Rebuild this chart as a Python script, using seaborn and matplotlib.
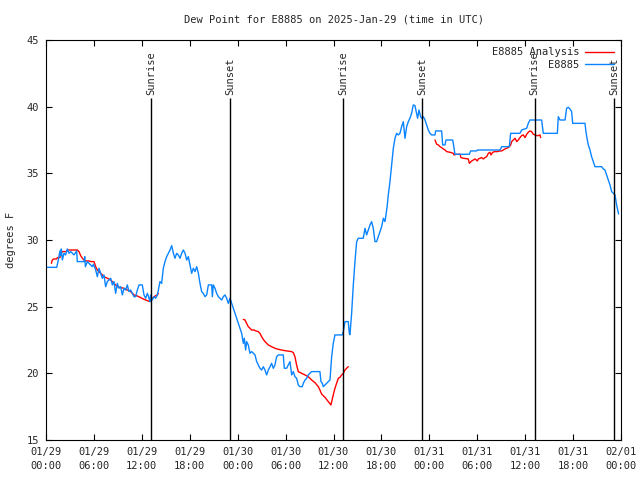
import numpy as np
import pandas as pd
import matplotlib
matplotlib.use("Agg")
import matplotlib.pyplot as plt
import seaborn as sns

# ---------------- data ----------------
title = "Dew Point for E8885 on 2025-Jan-29 (time in UTC)"
ylabel = "degrees F"

obs_hours = [0.0, 1.34, 1.50, 1.75, 1.84, 1.92, 2.05, 2.25, 2.46, 2.67, 2.88, 3.09, 3.51, 3.84, 3.92,
             4.76, 4.85, 4.93, 5.18, 5.38, 5.80, 5.93, 6.22, 6.43, 6.64, 6.85, 7.05, 7.26, 7.47, 7.68,
             7.89, 8.10, 8.31, 8.51, 8.72, 8.93, 9.14, 9.35, 9.56, 9.77, 9.98, 10.18, 10.39, 10.60,
             10.81, 11.02, 11.23, 11.44, 11.65, 12.06, 12.27, 12.48, 12.69, 12.90, 13.02, 13.10,
             13.31, 13.52, 13.73, 13.94, 14.07, 14.27, 14.48, 14.69, 14.90, 15.11, 15.32, 15.53,
             15.74, 15.95, 16.15, 16.36, 16.57, 16.78, 16.99, 17.20, 17.41, 17.62, 17.82, 18.03,
             18.24, 18.45, 18.66, 18.87, 19.08, 19.28, 19.49, 19.70, 19.91, 20.12, 20.33, 20.75,
             20.83, 20.95, 21.16, 21.37, 21.58, 21.79, 22.00, 22.20, 22.41, 22.62, 22.83, 23.04,
             23.25, 23.45, 23.66, 23.87, 24.08, 24.29, 24.50, 24.71, 24.83, 25.00, 25.12, 25.33,
             25.54, 25.75, 25.96, 26.17, 26.38, 26.58, 26.79, 27.00, 27.21, 27.42, 27.63, 27.84,
             28.04, 28.25, 28.46, 28.67, 28.88, 29.09, 29.71, 29.84, 30.13, 30.34, 30.55, 30.76,
             30.97, 31.17, 31.38, 31.59, 31.80, 32.09, 32.22, 32.43, 32.64, 32.84, 33.05, 33.26,
             34.30, 34.43, 34.60, 34.72, 34.93, 35.14, 35.35, 35.56, 35.77, 35.97, 36.18, 37.10,
             37.23, 37.44, 37.85, 37.98, 38.06, 38.27, 38.48, 38.69, 38.90, 39.10, 39.73, 39.94,
             40.15, 40.36, 40.57, 40.77, 40.98, 41.19, 41.40, 41.61, 41.82, 42.03, 42.24, 42.44,
             42.57, 42.74, 42.86, 43.07, 43.28, 43.49, 43.70, 43.91, 44.11, 44.32, 44.53, 44.74,
             44.95, 45.16, 45.37, 45.57, 45.78, 45.99, 46.20, 46.41, 46.53, 46.70, 46.91, 47.04,
             47.25, 47.46, 47.66, 47.87, 48.08, 48.29, 48.71, 48.79, 49.54, 49.67, 49.96, 50.09,
             50.92, 51.00, 51.21, 53.01, 53.17, 53.93, 54.01, 56.85, 57.06, 58.02, 58.18, 59.35,
             59.56, 60.19, 60.39, 60.60, 62.06, 62.19, 62.27, 64.03, 64.15, 64.36, 64.99, 65.19,
             65.40, 65.61, 65.82, 65.95, 67.49, 67.61, 67.78, 67.91, 68.12, 68.32, 68.53, 68.74,
             69.58, 69.79, 69.99, 70.20, 70.41, 70.62, 70.83, 71.04, 71.25, 71.45, 71.70]
obs_values = [27.95, 27.95, 28.38, 29.18, 28.83, 29.33, 28.5, 29.0, 28.88, 29.33, 29.0, 29.13, 28.88, 29.18, 28.38,
              28.38, 28.75, 28.0, 28.38, 28.25, 28.0, 28.18, 27.75, 27.25, 27.88, 27.5, 27.13, 27.38, 26.5, 26.88,
              27.0, 27.13, 26.63, 26.88, 26.0, 26.75, 26.38, 26.5, 25.88, 26.38, 26.25, 26.63, 26.13, 26.25,
              26.0, 25.75, 25.75, 26.25, 26.63, 26.63, 25.88, 25.63, 26.0, 25.63, 25.38, 25.88,
              25.5, 25.75, 25.63, 25.88, 26.25, 26.88, 26.75, 27.88, 28.38, 28.75, 29.0, 29.25,
              29.58, 29.0, 28.63, 29.0, 28.88, 28.63, 29.0, 29.25, 29.0, 28.5, 28.75, 28.13,
              27.5, 27.88, 27.63, 28.0, 27.5, 26.75, 26.13, 26.0, 25.75, 25.88, 26.63, 26.63,
              25.75, 26.63, 26.38, 26.0, 25.75, 25.63, 25.5, 25.75, 25.88, 25.63, 25.25, 25.63,
              25.25, 24.88, 24.5, 24.13, 23.75, 23.38, 23.0, 22.25, 22.63, 21.75, 22.38, 22.13,
              21.5, 21.63, 21.5, 21.38, 20.88, 20.63, 20.38, 20.25, 20.5, 20.25, 19.88, 20.25,
              20.5, 20.75, 20.38, 20.63, 21.25, 21.38, 21.38, 20.38, 20.38, 20.63, 20.88, 19.88,
              20.13, 19.75, 19.63, 19.13, 19.0, 19.0, 19.25, 19.5, 19.63, 19.88, 20.0, 20.13,
              20.13, 19.38, 19.25, 19.0, 19.13, 19.25, 19.38, 19.5, 21.25, 22.25, 22.88, 22.88,
              23.13, 23.88, 23.88, 23.0, 22.9, 24.5, 26.63, 28.38, 29.88, 30.13, 30.13, 30.88,
              30.38, 30.75, 31.13, 31.38, 30.88, 29.88, 29.88, 30.25, 30.63, 31.0, 31.63, 31.38,
              31.88, 32.63, 33.38, 34.38, 35.63, 36.88, 37.63, 38.0, 37.88, 38.0, 38.5, 38.88,
              37.63, 38.5, 38.88, 39.13, 39.5, 40.13, 40.08, 39.5, 39.13, 39.75, 39.25, 39.13,
              39.25, 39.0, 38.63, 38.25, 38.0, 37.88, 37.88, 38.18, 38.18, 37.13, 37.13, 37.5,
              37.5, 37.25, 36.43, 36.43, 36.68, 36.68, 36.75, 36.75, 37.0, 37.0, 38.0, 38.0,
              38.25, 38.38, 38.75, 39.0, 39.0, 38.38, 38.0, 38.0, 39.25, 39.0, 39.0, 39.88,
              39.95, 39.83, 39.63, 38.75, 38.75, 38.13, 37.5, 37.13, 36.75, 36.25, 35.88, 35.5,
              35.5, 35.33, 35.25, 34.88, 34.5, 34.13, 33.63, 33.5, 33.38, 32.63, 31.95]

ana1_hours = [0.67, 0.79, 1.0, 1.34, 1.42, 1.75, 1.84, 2.05, 2.59, 2.67, 3.92, 4.13, 4.34, 4.55, 4.76,
              4.97, 5.38, 5.59, 6.01, 6.22, 6.43, 6.64, 6.85, 7.26, 7.68, 8.10, 8.51, 8.93, 9.35, 9.77,
              10.18, 10.60, 11.02, 11.44, 11.85, 12.27, 12.69, 13.02, 13.31, 13.52, 13.94, 14.07]
ana1_values = [28.25, 28.5, 28.58, 28.58, 28.68, 28.68, 29.0, 29.13, 29.13, 29.25, 29.25, 29.13, 28.83, 28.63, 28.5,
               28.43, 28.43, 28.38, 28.38, 28.0, 27.75, 27.63, 27.5, 27.25, 27.13, 27.0, 26.75, 26.5, 26.43, 26.38,
               26.25, 26.13, 25.88, 25.8, 25.68, 25.55, 25.45, 25.38, 25.63, 25.75, 25.88, 26.0]

ana2_hours = [24.71, 24.92, 25.12, 25.33, 25.54, 25.75, 26.08, 26.17, 26.58, 26.79, 27.0, 27.21, 27.42,
              27.63, 27.84, 28.25, 28.67, 29.09, 29.5, 29.92, 30.76, 30.97, 31.17, 31.38, 31.59, 32.01,
              32.43, 32.84, 33.26, 33.68, 34.1, 34.3, 34.51, 34.93, 35.35, 35.68, 35.97, 36.18, 36.39,
              36.6, 36.81, 37.02, 37.23, 37.44, 37.64, 37.85]
ana2_values = [24.05, 24.0, 23.75, 23.5, 23.38, 23.25, 23.25, 23.2, 23.13, 23.0, 22.75, 22.55, 22.38,
               22.25, 22.13, 22.0, 21.88, 21.8, 21.75, 21.7, 21.63, 21.55, 21.25, 20.63, 20.13, 20.0,
               19.88, 19.75, 19.5, 19.3, 19.0, 18.75, 18.45, 18.2, 17.88, 17.63, 18.38, 18.88, 19.25,
               19.63, 19.7, 19.88, 20.0, 20.25, 20.38, 20.5]

ana3_hours = [48.71, 48.92, 49.13, 49.33, 49.54, 49.75, 49.96, 50.17, 50.59, 51.0, 51.09, 51.42, 51.84,
              51.96, 52.26, 52.88, 53.01, 53.3, 53.51, 53.72, 54.01, 54.13, 54.34, 54.55, 54.76, 54.97,
              55.18, 55.39, 55.59, 55.72, 55.93, 56.22, 56.51, 56.85, 57.06, 57.26, 57.47, 57.68, 57.89,
              58.02, 58.18, 58.31, 58.52, 58.73, 58.94, 59.14, 59.35, 59.56, 59.77, 59.98, 60.19, 60.39,
              60.6, 60.81, 61.02, 61.23, 61.44, 61.65, 61.86, 61.94]
ana3_values = [37.5, 37.18, 37.13, 37.0, 36.93, 36.83, 36.75, 36.63, 36.58, 36.5, 36.38, 36.43, 36.43,
               36.18, 36.13, 36.08, 35.75, 35.93, 36.0, 36.08, 35.93, 36.08, 36.13, 36.18, 36.08, 36.18,
               36.25, 36.5, 36.58, 36.38, 36.58, 36.63, 36.63, 36.68, 36.68, 36.75, 36.83, 36.88, 36.93,
               37.0, 37.13, 37.38, 37.5, 37.63, 37.38, 37.5, 37.68, 37.83, 37.88, 37.68, 37.93, 38.08,
               38.18, 38.13, 37.93, 37.88, 37.83, 37.83, 37.88, 37.68]

sunrise_hours = [13.2, 37.19, 61.18]
sunset_hours = [23.07, 47.08, 71.1]

x_ticks = [0, 6, 12, 18, 24, 30, 36, 42, 48, 54, 60, 66, 72]
x_tick_labels = ["01/29\n00:00", "01/29\n06:00", "01/29\n12:00", "01/29\n18:00",
                 "01/30\n00:00", "01/30\n06:00", "01/30\n12:00", "01/30\n18:00",
                 "01/31\n00:00", "01/31\n06:00", "01/31\n12:00", "01/31\n18:00",
                 "02/01\n00:00"]
y_ticks = [15, 20, 25, 30, 35, 40, 45]

series_names = ["E8885 Analysis", "E8885"]
colors = {"E8885 Analysis": "#ff0000", "E8885": "#0a84ff"}

# ---------------- build frame ----------------
frames = []
for seg, (h, v) in enumerate([(ana1_hours, ana1_values), (ana2_hours, ana2_values), (ana3_hours, ana3_values)]):
    frames.append(pd.DataFrame({"hour": h, "dewpoint": v, "series": series_names[0], "segment": seg}))
frames.append(pd.DataFrame({"hour": obs_hours, "dewpoint": obs_values, "series": series_names[1], "segment": 10}))
df = pd.concat(frames, ignore_index=True)

# ---------------- plot ----------------
sns.set_theme(style="white")
plt.rcParams["font.family"] = ["DejaVu Sans Mono"]
plt.rcParams["font.size"] = 7.5

fig = plt.figure(figsize=(6.4, 4.8), dpi=100)
ax = fig.add_axes([46 / 640, 1 - 440 / 480, (621 - 46) / 640, 400 / 480])

sns.lineplot(data=df, x="hour", y="dewpoint", hue="series", units="segment", estimator=None,
             hue_order=series_names, palette=colors, linewidth=1.0, ax=ax, sort=False)

ax.set_xlim(0, 72)
ax.set_ylim(15, 45)

line_top = 40.65
label_y = 40.85
for h in sunrise_hours:
    ax.vlines(h, 15, line_top, color="black", linewidth=1.0)
    ax.text(h, label_y, "Sunrise", rotation=90, ha="center", va="bottom", fontsize=7.5)
for h in sunset_hours:
    ax.vlines(h, 15, line_top, color="black", linewidth=1.0)
    ax.text(h, label_y, "Sunset", rotation=90, ha="center", va="bottom", fontsize=7.5)

ax.set_xticks(x_ticks)
ax.set_xticklabels(x_tick_labels, linespacing=1.45)
ax.set_yticks(y_ticks)
ax.set_yticklabels([str(v) for v in y_ticks])
ax.tick_params(axis="both", direction="in", length=4, width=0.8, color="black",
               top=True, right=True, bottom=True, left=True, labelsize=7.5, pad=5)
ax.tick_params(axis="y", pad=5)
for s in ax.spines.values():
    s.set_color("black")
    s.set_linewidth(0.8)
ax.set_xlabel("")
ax.set_ylabel("")

leg = ax.legend(loc="upper right", markerfirst=False, frameon=False, handlelength=2.8,
                handletextpad=0.5, labelspacing=0.25, borderaxespad=0.3, fontsize=7.5,
                bbox_to_anchor=(1.0, 1.0))
for t in leg.get_texts():
    t.set_ha("right")

fig.text(333.5 / 640, 1 - 19 / 480, title, ha="center", va="center", fontsize=7.5)
fig.text(11 / 640, 0.5, ylabel, rotation=90, ha="center", va="center", fontsize=7.5)

fig.savefig("out.png", dpi=100)
